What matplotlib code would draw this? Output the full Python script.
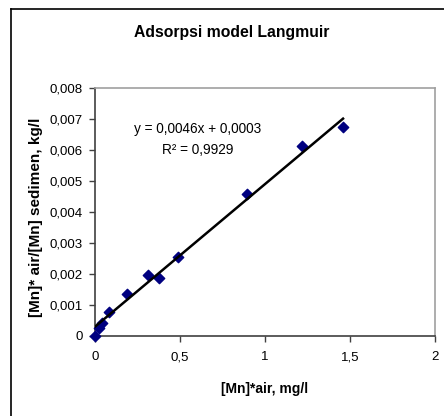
import numpy as np
import matplotlib
matplotlib.use("Agg")
import matplotlib.pyplot as plt
from matplotlib.lines import Line2D

plt.rcParams['font.family'] = ['Liberation Sans', 'DejaVu Sans']

# data
mn_air = [0.0, 0.024, 0.041, 0.083, 0.187, 0.309, 0.376, 0.49, 0.897, 1.217, 1.459]
ratio = [0.0, 0.00027, 0.00042, 0.00076, 0.00135, 0.00198, 0.00188, 0.00256,
         0.00458, 0.00612, 0.00673]
slope, intercept = 0.0046, 0.0003
x_ticks = [0, 0.5, 1, 1.5, 2]
x_tick_labels = ['0', '0,5', '1', '1,5', '2']
y_ticks = [0, 0.001, 0.002, 0.003, 0.004, 0.005, 0.006, 0.007, 0.008]
y_tick_labels = ['0', '0,001', '0,002', '0,003', '0,004', '0,005', '0,006', '0,007', '0,008']

W, H = 444, 416
fig = plt.figure(figsize=(W / 100, H / 100), dpi=100)
ax = fig.add_axes([95 / W, 1 - 336 / H, 340 / W, (336 - 88) / H])

# outer chart border (only top and left visible)
fig.add_artist(Line2D([11 / W, 11 / W], [0, 1 - 9 / H], color='black', lw=1.2))
fig.add_artist(Line2D([11 / W, 1], [1 - 9 / H, 1 - 9 / H], color='black', lw=1.2))

ax.scatter(mn_air, ratio, marker='D', s=28, color='#000080', zorder=3, clip_on=False)
xs = np.array([0, max(mn_air)])
ax.plot(xs, slope * xs + intercept, color='black', lw=1.8, zorder=4)

ax.set_xlim(0, 2)
ax.set_ylim(0, 0.008)
ax.set_xticks(x_ticks)
ax.set_xticklabels(x_tick_labels)
ax.set_yticks(y_ticks)
ax.set_yticklabels(y_tick_labels)
ax.tick_params(labelsize=9.5, length=4, width=1, color='#404040', pad=5)
ax.tick_params(axis='x', pad=7)

for s in ['left', 'bottom']:
    ax.spines[s].set_color('#404040')
    ax.spines[s].set_linewidth(1.2)
for s in ['top', 'right']:
    ax.spines[s].set_color('#a0a0a0')
    ax.spines[s].set_linewidth(1.2)

ax.text(0.605, 0.00668, 'y = 0,0046x + 0,0003', fontsize=9.8, ha='center', va='center')
ax.text(0.605, 0.0060, 'R² = 0,9929', fontsize=9.8, ha='center', va='center')

fig.text(232 / W, 1 - 33 / H, 'Adsorpsi model Langmuir', fontsize=11.3, fontweight='bold',
         ha='center', va='center')
fig.text(265 / W, 1 - 389 / H, '[Mn]*air, mg/l', fontsize=10, fontweight='bold',
         ha='center', va='center')
fig.text(36 / W, 1 - 217 / H, '[Mn]* air/[Mn] sedimen, kg/l', fontsize=11, fontweight='bold',
         rotation=90, ha='center', va='center')

fig.savefig('out.png', dpi=100)
